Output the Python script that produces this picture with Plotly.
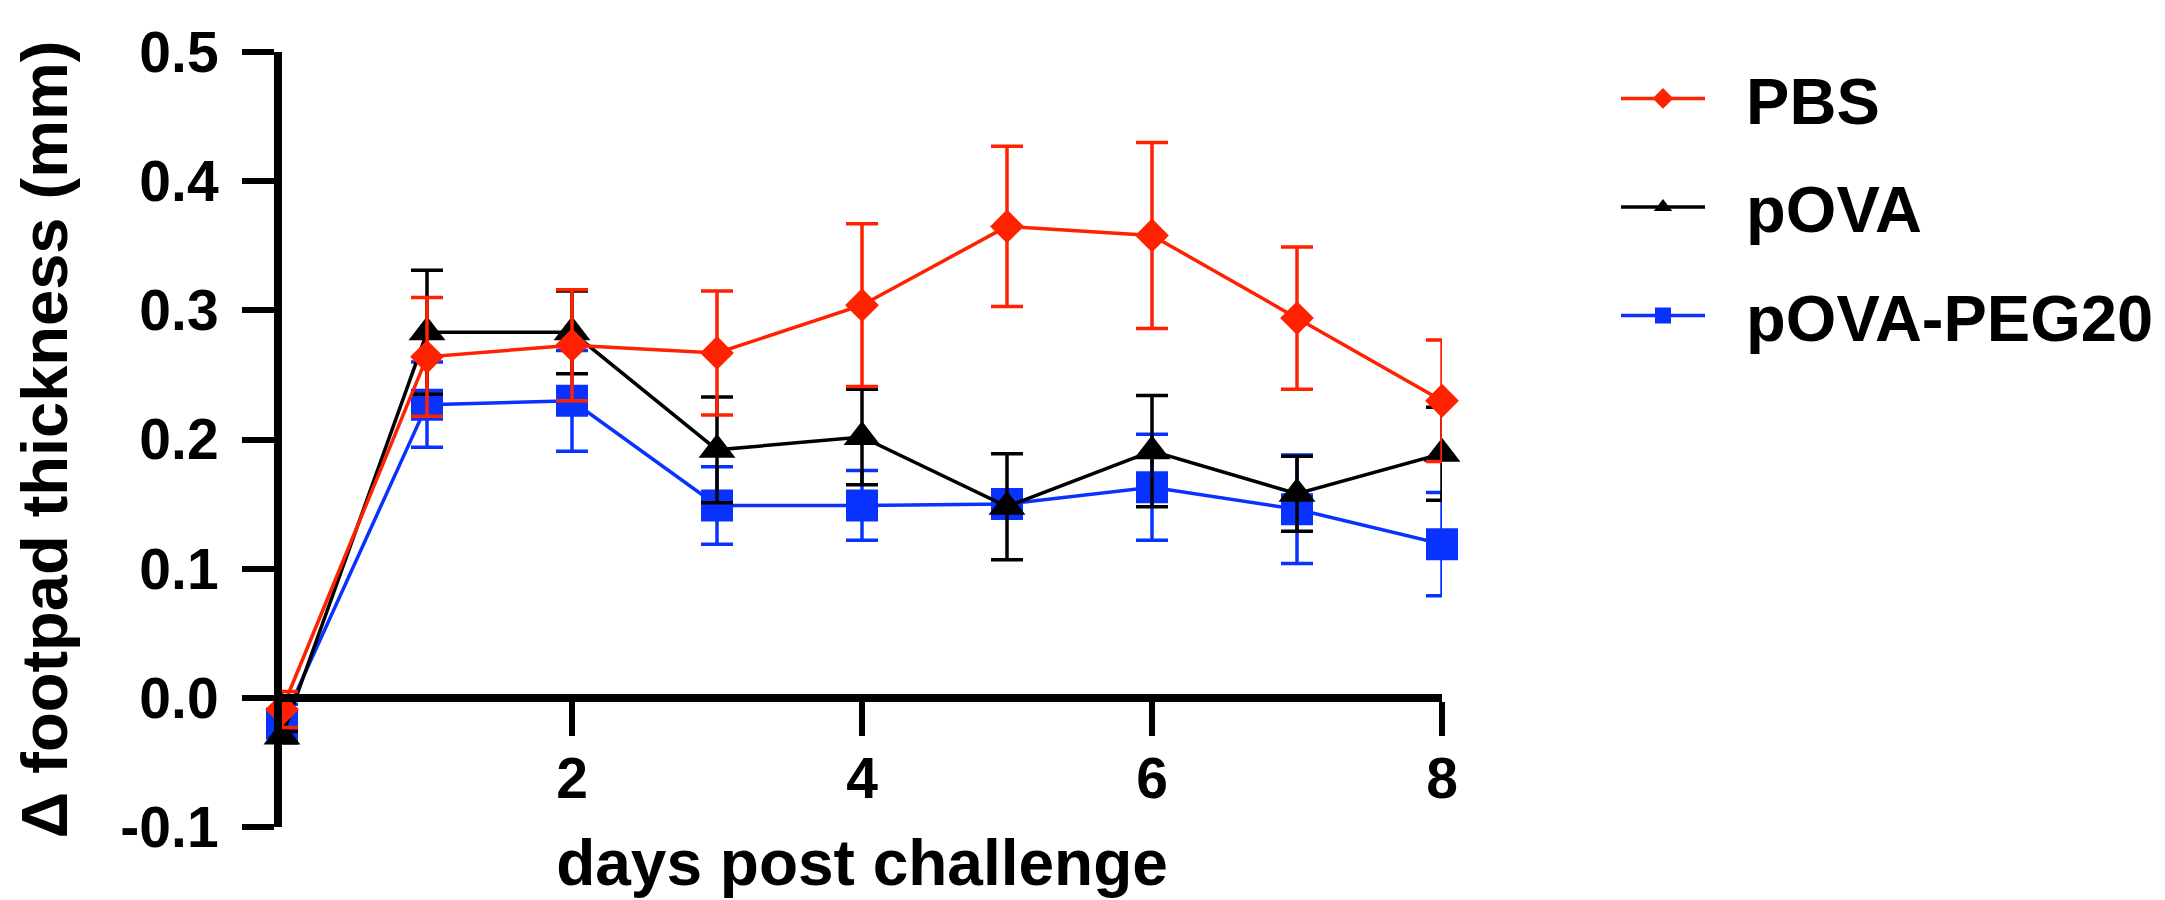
import plotly.graph_objects as go

days = [0, 1, 2, 3, 4, 5, 6, 7, 8]

pbs_mean = [-0.009, 0.264, 0.273, 0.267, 0.304, 0.365, 0.358, 0.294, 0.230]
pbs_err = [0.014, 0.046, 0.043, 0.048, 0.063, 0.062, 0.072, 0.055, 0.047]

pova_mean = [-0.030, 0.283, 0.283, 0.192, 0.202, 0.148, 0.191, 0.158, 0.189]
pova_err = [0.004, 0.048, 0.032, 0.041, 0.037, 0.041, 0.043, 0.029, 0.036]

peg_mean = [-0.020, 0.227, 0.230, 0.149, 0.149, 0.150, 0.163, 0.146, 0.119]
peg_err = [0.015, 0.033, 0.039, 0.030, 0.027, 0.010, 0.041, 0.042, 0.040]

y_ticks = [-0.1, 0.0, 0.1, 0.2, 0.3, 0.4, 0.5]
y_ticktext = ["-0.1", "0.0", "0.1", "0.2", "0.3", "0.4", "0.5"]
x_ticks = [2, 4, 6, 8]

RED = "#ff2200"
BLUE = "#0a32ff"
BLACK = "#000000"
FONT = "Liberation Sans, Arial, sans-serif"
GAP = "\u00a0\u00a0"  # space between legend symbol and label

fig = go.Figure()

# drawn bottom to top: PEG20, pOVA, PBS; legendrank puts PBS first
series = [
    ("pOVA-PEG20", peg_mean, peg_err, BLUE, "square", 32, 3),
    ("pOVA", pova_mean, pova_err, BLACK, "triangle-up", 32, 2),
    ("PBS", pbs_mean, pbs_err, RED, "diamond", 26, 1),
]
for name, mean, err, color, symbol, size, rank in series:
    fig.add_scatter(
        x=days, y=mean, name=GAP + name, mode="lines+markers",
        line=dict(color=color, width=3.5),
        marker=dict(symbol=symbol, size=size, color=color),
        error_y=dict(type="data", array=err, visible=True,
                     color=color, thickness=3.5, width=16),
        cliponaxis=False, legendgroup=name, legendrank=rank,
    )

fig.update_xaxes(
    range=[0, 8], anchor="free", position=1 / 6,
    showline=True, linecolor="black", linewidth=8,
    ticks="outside", ticklen=34, tickwidth=6, tickcolor="black",
    tickvals=x_ticks, ticklabelstandoff=-6,
    showgrid=False, zeroline=False,
    tickfont=dict(family=FONT, size=57, color="black", weight="bold"),
    title=dict(text="days post challenge", standoff=30,
               font=dict(family=FONT, size=64, color="black", weight="bold")),
)
fig.update_yaxes(
    range=[-0.1, 0.5],
    showline=True, linecolor="black", linewidth=8,
    ticks="outside", ticklen=32, tickwidth=6, tickcolor="black",
    tickvals=y_ticks, ticktext=y_ticktext, ticklabelstandoff=12,
    ticklabeloverflow="allow",
    showgrid=False, zeroline=False,
    tickfont=dict(family=FONT, size=57, color="black", weight="bold"),
    title=dict(text="Δ footpad thickness (mm)", standoff=55,
               font=dict(family=FONT, size=65, color="black", weight="bold")),
)

fig.update_layout(
    width=2165, height=900,
    margin=dict(l=236, r=731, t=23, b=81),
    plot_bgcolor="white", paper_bgcolor="white",
    legend=dict(
        x=1.15, y=1.003, xanchor="left", yanchor="top",
        traceorder="grouped", tracegroupgap=21, itemwidth=84,
        font=dict(family=FONT, size=65, color="black", weight="bold"),
    ),
)

fig.write_html("out.html")
